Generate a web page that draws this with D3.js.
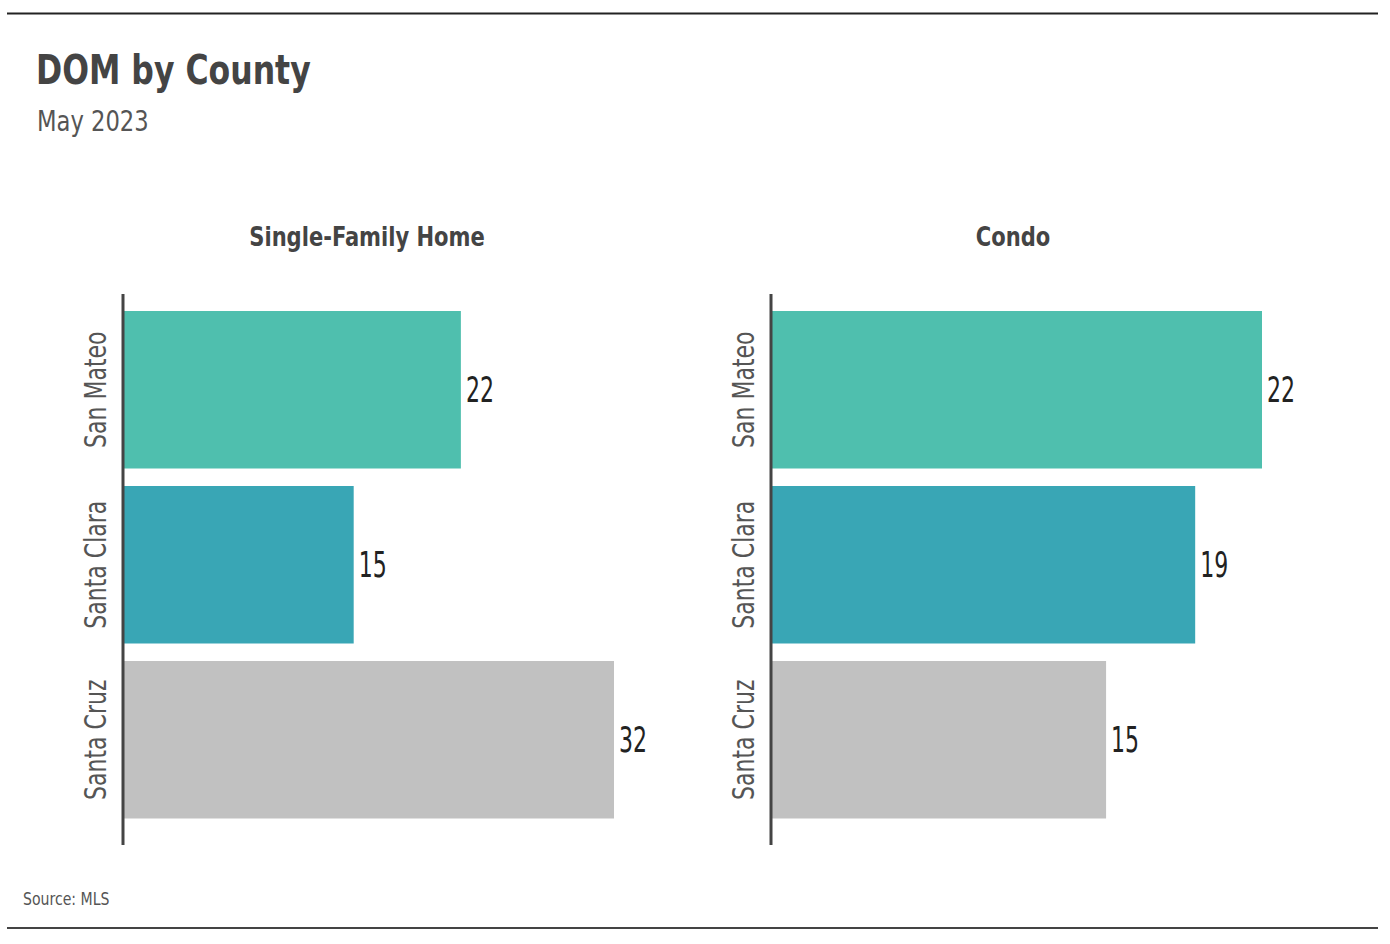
<!DOCTYPE html>
<meta charset="utf-8">
<script src="https://d3js.org/d3.v7.min.js"></script>
<style>
  body { margin: 0; background: #fff; }
  text { font-family: "DejaVu Sans Condensed", "DejaVu Sans", sans-serif; }
</style>
<div id="my_dataviz"></div>
<script>
// data
var counties = ["San Mateo", "Santa Clara", "Santa Cruz"];
var panels = ["Single-Family Home", "Condo"];
var sfhValues = [22, 15, 32];
var condoValues = [22, 19, 15];
var barColors = ["#4fbfae", "#39a6b5", "#c1c1c1"];

var W = 1390, H = 944;

var svg = d3.select("#my_dataviz")
  .append("svg")
    .attr("width", W)
    .attr("height", H);

// frame lines
svg.append("line").attr("x1", 7).attr("x2", 1378).attr("y1", 13.5).attr("y2", 13.5)
  .attr("stroke", "#222").attr("stroke-width", 2);
svg.append("line").attr("x1", 7).attr("x2", 1378).attr("y1", 928).attr("y2", 928)
  .attr("stroke", "#444").attr("stroke-width", 2);

// narrow text: squeeze horizontally to get the condensed look
function label(parent, str, x, y, size, sx, opts) {
  opts = opts || {};
  var t = "translate(" + x + "," + y + ")" + (opts.rotate ? " rotate(" + opts.rotate + ")" : "") + " scale(" + sx + ",1)";
  return parent.append("text")
    .attr("transform", t)
    .attr("text-anchor", opts.anchor || "start")
    .attr("dy", opts.dy || null)
    .attr("font-size", size + "px")
    .attr("font-weight", opts.bold ? "bold" : null)
    .attr("fill", opts.fill || "#555")
    .text(str);
}

// titles
label(svg, "DOM by County", 36, 84, 41, 0.855, {bold: true, fill: "#444"});
label(svg, "May 2023", 37, 131, 28, 0.9, {fill: "#555"});
label(svg, "Source: MLS", 23, 905, 18, 0.87, {fill: "#555"});

var y = d3.scaleBand()
  .domain(counties)
  .range([293.5, 836])
  .padding(0.1);

var color = d3.scaleOrdinal().domain(counties).range(barColors);

function drawPanel(name, values, left, centerX) {
  var g = svg.append("g").attr("transform", "translate(" + left + ",0)");
  var x = d3.scaleLinear()
    .domain([0, d3.max(values)])
    .range([0, 490]);

  label(svg, name, centerX, 246, 26, 0.9, {anchor: "middle", bold: true, fill: "#444"});

  g.selectAll("rect")
    .data(values)
    .enter()
    .append("rect")
      .attr("x", 1)
      .attr("y", function(d, i){ return y(counties[i]); })
      .attr("width", function(d){ return x(d); })
      .attr("height", y.bandwidth())
      .attr("fill", function(d, i){ return color(counties[i]); });

  values.forEach(function(d, i) {
    label(g, d, x(d) + 6, y(counties[i]) + y.bandwidth() / 2, 35, 0.7, {dy: "0.36em", fill: "#222"});
  });

  counties.forEach(function(d) {
    label(g, d, -17, y(d) + y.bandwidth() / 2, 31, 0.79, {rotate: -90, anchor: "middle", fill: "#555"});
  });

  g.append("line")
    .attr("x1", 0).attr("x2", 0)
    .attr("y1", 294).attr("y2", 845)
    .attr("stroke", "#444").attr("stroke-width", 3);
}

drawPanel(panels[0], sfhValues, 123, 367);
drawPanel(panels[1], condoValues, 771, 1013);
</script>
